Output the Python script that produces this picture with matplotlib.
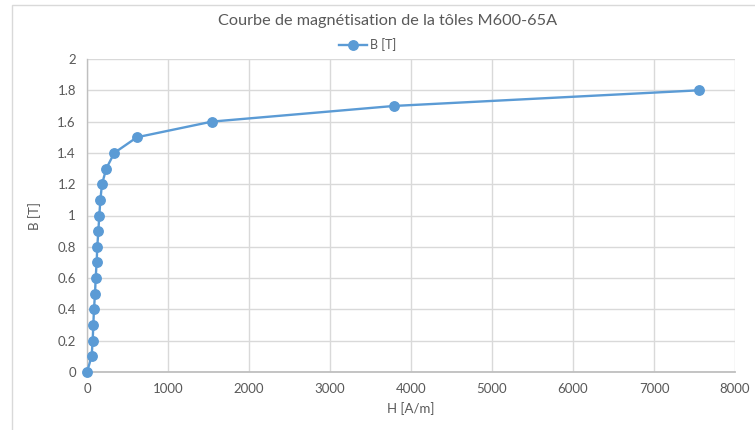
import matplotlib.pyplot as plt
from matplotlib.patches import Rectangle

plt.rcParams['font.family'] = ['Lato', 'DejaVu Sans']

# Magnetisation curve of M600-65A sheets
H = [0, 57, 70, 78, 86, 99, 107, 119, 127, 140, 152, 165, 185, 238, 337, 617, 1543, 3790, 7555]
B = [0, 0.1, 0.2, 0.3, 0.4, 0.5, 0.6, 0.7, 0.8, 0.9, 1.0, 1.1, 1.2, 1.3, 1.4, 1.5, 1.6, 1.7, 1.8]

x_ticks = [0, 1000, 2000, 3000, 4000, 5000, 6000, 7000, 8000]
y_ticks = [0, 0.2, 0.4, 0.6, 0.8, 1, 1.2, 1.4, 1.6, 1.8, 2]
y_labels = ['0', '0.2', '0.4', '0.6', '0.8', '1', '1.2', '1.4', '1.6', '1.8', '2']

blue = '#5B9BD5'
text_grey = '#595959'
grid_grey = '#D9D9D9'

fig = plt.figure(figsize=(7.55, 4.3), dpi=100)
# chart frame
fig.patches.append(Rectangle((12 / 755, -0.1), 1.2, 1.1 - 5 / 430,
                             transform=fig.transFigure, fill=False,
                             edgecolor=grid_grey, linewidth=1.0))

ax = fig.add_axes([87 / 755, 58 / 430, 648 / 755, 313 / 430])

ax.plot(H, B, color=blue, linewidth=1.7, marker='o', markersize=6.8,
        label='B [T]', zorder=3, clip_on=False)

ax.set_xlim(0, 8000)
ax.set_ylim(0, 2)
ax.set_xticks(x_ticks)
ax.set_yticks(y_ticks)
ax.set_yticklabels(y_labels)
ax.grid(True, color=grid_grey, linewidth=1.0)
ax.set_axisbelow(True)

for side in ['top', 'right']:
    ax.spines[side].set_visible(False)
ax.spines['left'].set_color('#BFBFBF')
ax.spines['bottom'].set_color('#BFBFBF')
ax.spines['left'].set_linewidth(1.0)
ax.spines['bottom'].set_linewidth(1.3)

ax.tick_params(axis='both', length=0, labelsize=9.5, colors=text_grey, pad=8)

ax.set_xlabel('H [A/m]', fontsize=9.5, color=text_grey, labelpad=5)
ax.set_ylabel('B [T]', fontsize=9.5, color=text_grey, labelpad=12)

fig.text(388 / 755, 1 - 21 / 430, 'Courbe de magnétisation de la tôles M600-65A',
         ha='center', va='center', fontsize=11.7, color=text_grey)

fig.legend(loc='center', bbox_to_anchor=(368 / 755, 1 - 45 / 430), frameon=False,
           fontsize=9, labelcolor=text_grey, handlelength=2.2, handletextpad=0.3,
           borderpad=0)

fig.savefig('out.png', dpi=100)
